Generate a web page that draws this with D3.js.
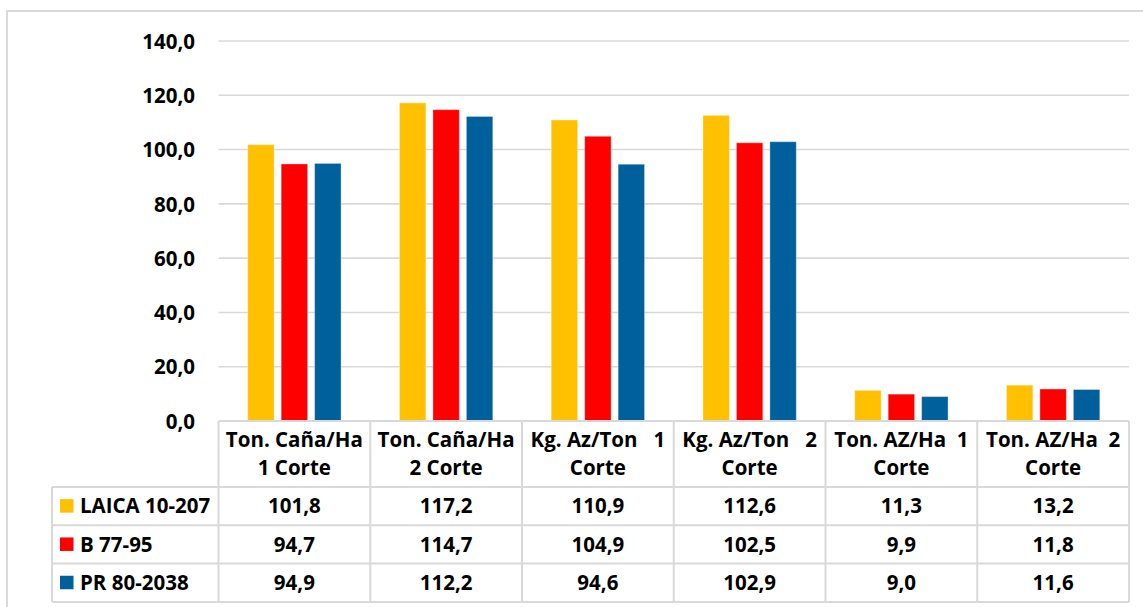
<!DOCTYPE html>
<html><head><meta charset="utf-8">
<script src="https://cdn.jsdelivr.net/npm/d3@7"></script>
<style>
html,body{margin:0;padding:0;background:#fff;}
text{font-family:"Open Sans",sans-serif;font-weight:700;fill:#000;}
</style></head>
<body><svg id="chart" width="1143" height="607"></svg>
<script>
const categories = [
  ["Ton. Caña/Ha", "1 Corte"],
  ["Ton. Caña/Ha", "2 Corte"],
  ["Kg. Az/Ton   1", "Corte"],
  ["Kg. Az/Ton   2", "Corte"],
  ["Ton. AZ/Ha  1", "Corte"],
  ["Ton. AZ/Ha  2", "Corte"]
];
const seriesNames = ["LAICA 10-207", "B 77-95", "PR 80-2038"];
const laica = [101.8, 117.2, 110.9, 112.6, 11.3, 13.2];
const b7795 = [94.7, 114.7, 104.9, 102.5, 9.9, 11.8];
const pr80 = [94.9, 112.2, 94.6, 102.9, 9.0, 11.6];
const seriesValues = [laica, b7795, pr80];
const seriesColors = ["#FFC000", "#FF0000", "#00609C"];
const yTicks = [0, 20, 40, 60, 80, 100, 120, 140];

const svg = d3.select("#chart");
const fmt = d3.formatLocale({decimal: ",", thousands: ".", grouping: [3], currency: ["", ""]}).format(".1f");

const FS = 20.5;
const plotLeft = 218.5, plotRight = 1129, plotTop = 41, plotBottom = 421;
const headerH = 66, rowH = 38.3, legendLeft = 52;
const gridColor = "#d9d9d9";

// outer chart border
svg.append("rect").attr("x", 7).attr("y", 11).attr("width", 1160).attr("height", 620)
  .attr("fill", "none").attr("stroke", gridColor).attr("stroke-width", 2);

const x = d3.scaleBand().domain(d3.range(categories.length)).range([plotLeft, plotRight]).padding(0);
const y = d3.scaleLinear().domain([0, 140]).range([plotBottom, plotTop]);
const cw = x.bandwidth();
const xs = d3.scaleBand().domain(d3.range(seriesNames.length)).range([29.2, cw - 29.2]).paddingInner(0.21).paddingOuter(0);

// gridlines
svg.append("g").selectAll("line").data(yTicks.filter(t => t > 0)).join("line")
  .attr("x1", plotLeft).attr("x2", plotRight)
  .attr("y1", d => y(d)).attr("y2", d => y(d))
  .attr("stroke", gridColor).attr("stroke-width", 1.6);

// y axis labels
const yAxis = d3.axisLeft(y).tickValues(yTicks).tickFormat(fmt).tickSize(0).tickPadding(0);
const ya = svg.append("g").attr("transform", `translate(195,0)`).call(yAxis);
ya.select(".domain").remove();
ya.selectAll("text").attr("font-size", FS).attr("font-family", "Open Sans").attr("font-weight", 700).attr("fill", "#000").attr("dy", "0.35em");

// bars
seriesValues.forEach((vals, si) => {
  svg.append("g").selectAll("rect").data(vals).join("rect")
    .attr("x", (d, i) => x(i) + xs(si))
    .attr("y", d => y(d))
    .attr("width", xs.bandwidth())
    .attr("height", d => y(0) - y(d))
    .attr("fill", seriesColors[si])
    .attr("stroke", "#ffffff").attr("stroke-opacity", 0.35).attr("stroke-width", 1);
});

// data table
const tableBottom = plotBottom + headerH + rowH * 3;
const lines = svg.append("g").attr("stroke", gridColor).attr("stroke-width", 2);
lines.append("line").attr("x1", plotLeft).attr("x2", plotRight).attr("y1", plotBottom).attr("y2", plotBottom);
for (let r = 0; r <= 3; r++) {
  const yy = plotBottom + headerH + r * rowH;
  lines.append("line").attr("x1", legendLeft).attr("x2", plotRight).attr("y1", yy).attr("y2", yy);
}
for (let c = 0; c <= categories.length; c++) {
  const xx = plotLeft + c * cw;
  lines.append("line").attr("x1", xx).attr("x2", xx).attr("y1", plotBottom).attr("y2", tableBottom);
}
lines.append("line").attr("x1", legendLeft).attr("x2", legendLeft).attr("y1", plotBottom + headerH).attr("y2", tableBottom);

// header text
const hdr = svg.append("g");
categories.forEach((lab, i) => {
  const t = hdr.append("text").attr("text-anchor", "middle").attr("font-size", FS)
    .attr("x", x(i) + cw / 2).style("white-space", "pre");
  lab.forEach((ln, li) => {
    t.append("tspan").attr("x", x(i) + cw / 2)
      .attr("y", plotBottom + headerH / 2 - 14 + li * 28).attr("dy", "0.35em").text(ln);
  });
});

// rows
seriesNames.forEach((name, si) => {
  const cy = plotBottom + headerH + si * rowH + rowH / 2;
  svg.append("rect").attr("x", 60).attr("y", cy - 7).attr("width", 13.5).attr("height", 13.5).attr("fill", seriesColors[si]);
  svg.append("text").attr("x", 80).attr("y", cy).attr("dy", "0.35em").attr("font-size", FS).text(name);
  svg.append("g").selectAll("text").data(seriesValues[si]).join("text")
    .attr("x", (d, i) => x(i) + cw / 2).attr("y", cy).attr("dy", "0.35em")
    .attr("text-anchor", "middle").attr("font-size", FS).text(d => fmt(d));
});
</script></body></html>
